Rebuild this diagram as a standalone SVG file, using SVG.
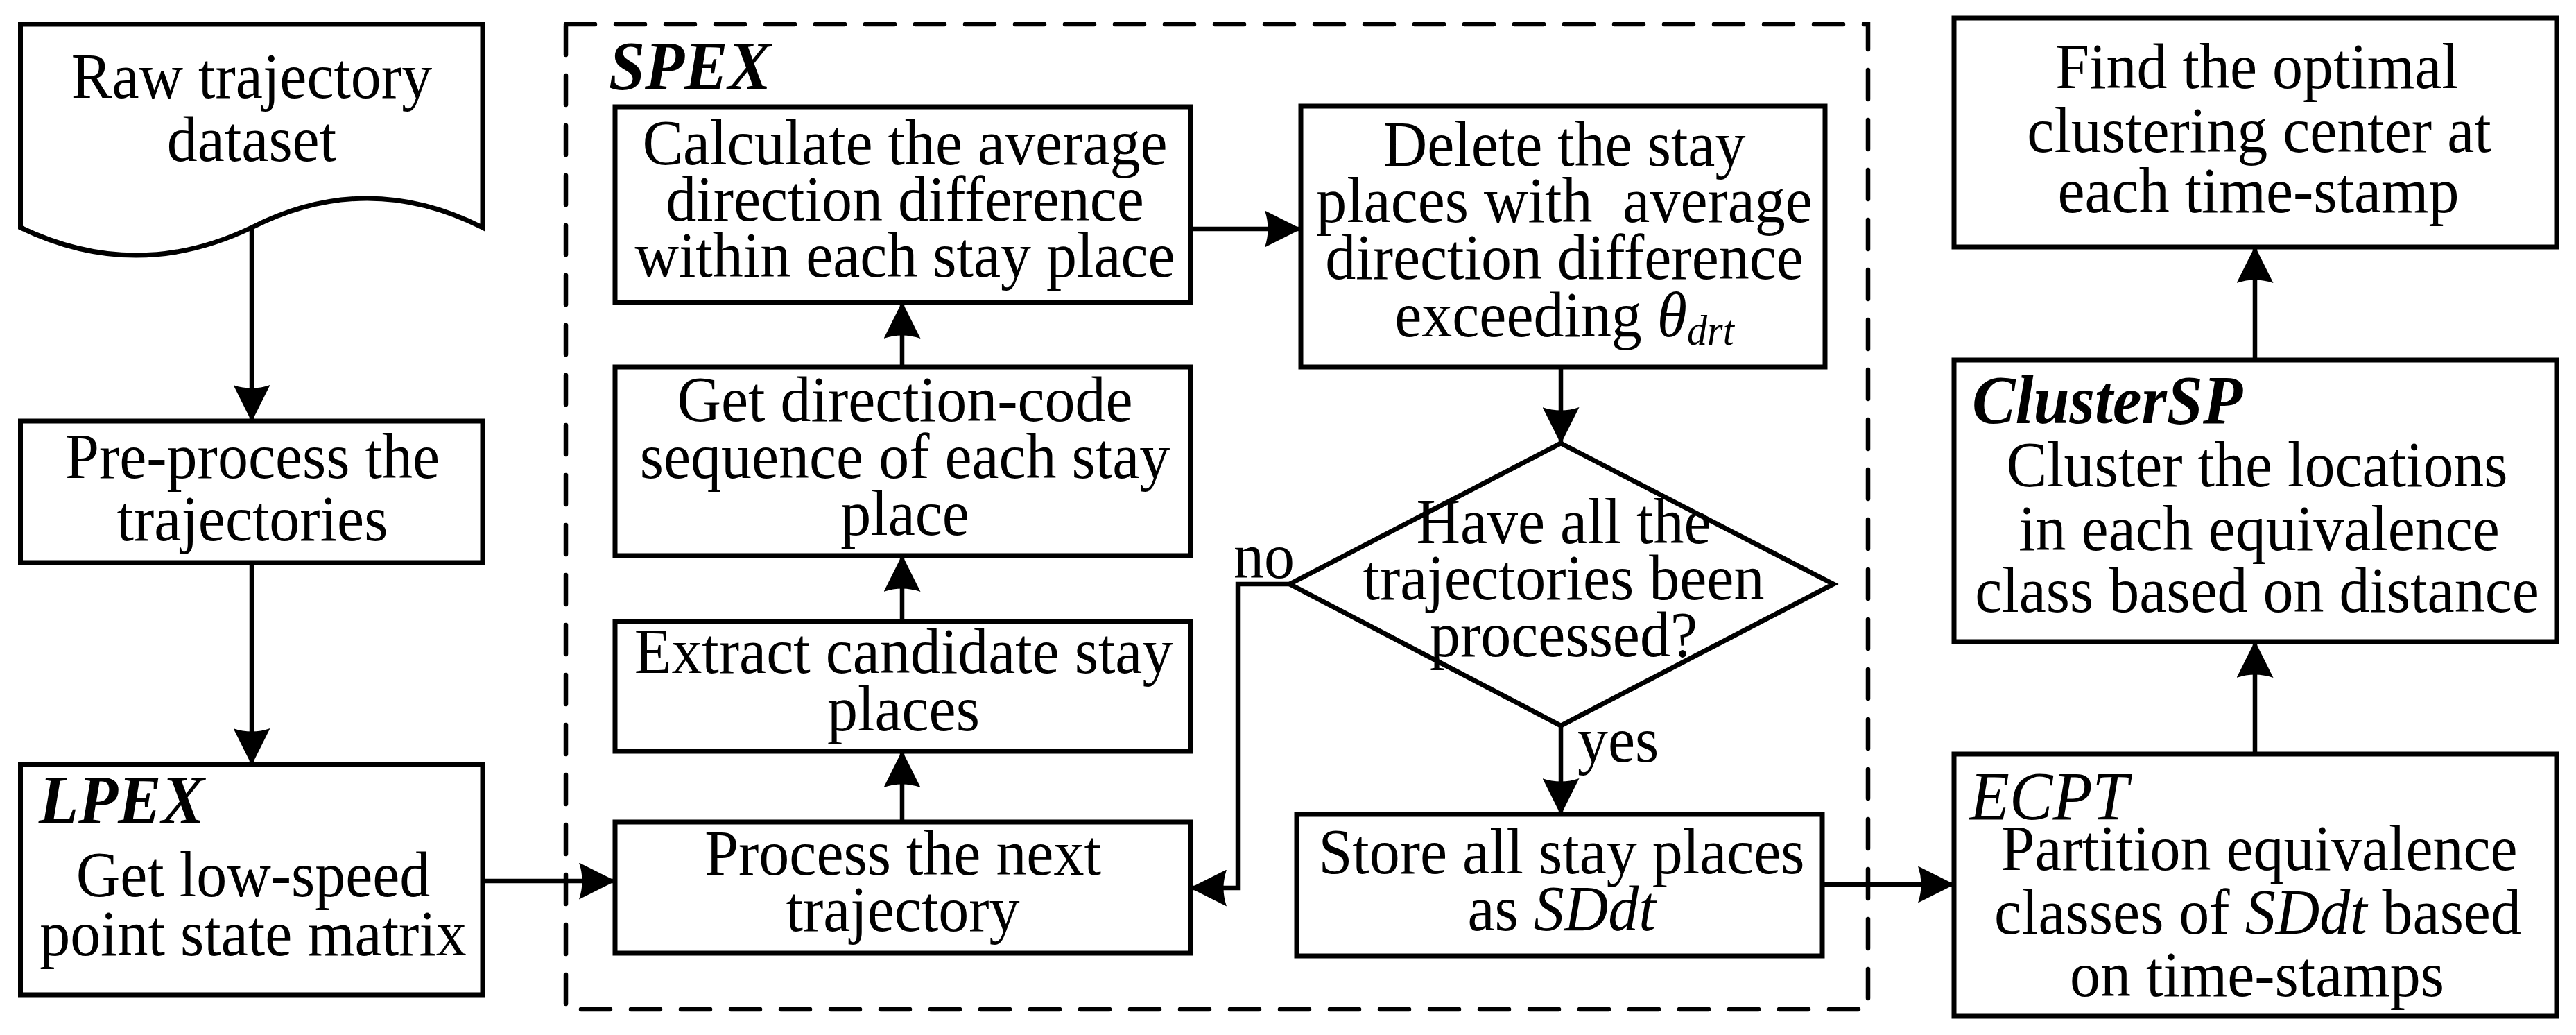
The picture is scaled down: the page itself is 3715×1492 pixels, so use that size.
<svg xmlns="http://www.w3.org/2000/svg" width="3715" height="1492" viewBox="0 0 3715 1492">
<style>
.box{fill:#fff;stroke:#000;stroke-width:7;stroke-linejoin:miter}
.t{font-family:"Liberation Serif","Times New Roman",serif;font-size:94px;fill:#000;text-anchor:middle;transform-box:fill-box;transform-origin:center;transform:scaleX(0.936)}
.s{text-anchor:start;transform-origin:left center}
.lbl{font-family:"Liberation Serif","Times New Roman",serif;font-size:100px;font-weight:bold;font-style:italic;fill:#000;transform-box:fill-box;transform-origin:left center;transform:scaleX(0.936)}
.it{font-style:italic}
.con{fill:none;stroke:#000;stroke-width:6.5}
.dash{fill:none;stroke:#000;stroke-width:6.5;stroke-dasharray:42 30;stroke-linecap:round}
</style>
<defs>
<marker id="arr" markerUnits="userSpaceOnUse" viewBox="0 0 53 53" markerWidth="53" markerHeight="53" refX="52" refY="26.5" orient="auto">
<path d="M0,0 L53,26.5 L0,53 Q9,26.5 0,0 Z" fill="#000"/>
</marker>
</defs>
<rect width="3715" height="1492" fill="#fff"/>

<g id="spex">
<rect class="dash" x="816" y="35" width="1878" height="1420"/>
<text class="lbl" x="878" y="128">SPEX</text>
</g>

<g id="connectors">
<line class="con" x1="363" y1="328" x2="363" y2="607" marker-end="url(#arr)"/>
<line class="con" x1="363" y1="811" x2="363" y2="1102" marker-end="url(#arr)"/>
<line class="con" x1="696" y1="1270" x2="887" y2="1270" marker-end="url(#arr)"/>
<line class="con" x1="1301" y1="1185" x2="1301" y2="1083" marker-end="url(#arr)"/>
<line class="con" x1="1301" y1="896" x2="1301" y2="801" marker-end="url(#arr)"/>
<line class="con" x1="1301" y1="529" x2="1301" y2="436" marker-end="url(#arr)"/>
<line class="con" x1="1717" y1="330" x2="1876" y2="330" marker-end="url(#arr)"/>
<line class="con" x1="2251" y1="529" x2="2251" y2="639" marker-end="url(#arr)"/>
<line class="con" x1="2251" y1="1046" x2="2251" y2="1174" marker-end="url(#arr)"/>
<polyline class="con" points="1860,842 1785,842 1785,1280 1717,1280" marker-end="url(#arr)"/>
<line class="con" x1="2628" y1="1275" x2="2818" y2="1275" marker-end="url(#arr)"/>
<line class="con" x1="3252" y1="1087" x2="3252" y2="925" marker-end="url(#arr)"/>
<line class="con" x1="3252" y1="519" x2="3252" y2="356" marker-end="url(#arr)"/>
<text class="t s" x="1779" y="833">no</text>
<text class="t s" x="2275" y="1098">yes</text>
</g>

<g id="raw">
<path class="box" d="M29.5,35 H696 V328 Q529.5,244 363,328 Q196,408 29.5,328 Z"/>
<text class="t" x="363" y="141">Raw trajectory</text>
<text class="t" x="363" y="232">dataset</text>
</g>

<g id="preprocess">
<rect class="box" x="29.5" y="607" width="666.5" height="204"/>
<text class="t" x="364" y="689">Pre-process the</text>
<text class="t" x="364" y="779">trajectories</text>
</g>

<g id="lpex">
<rect class="box" x="29.5" y="1102" width="666.5" height="332"/>
<text class="lbl" x="56" y="1186">LPEX</text>
<text class="t" x="365" y="1292">Get low-speed</text>
<text class="t" x="365" y="1377">point state matrix</text>
</g>

<g id="calc">
<rect class="box" x="887" y="154" width="830" height="282"/>
<text class="t" x="1305" y="237">Calculate the average</text>
<text class="t" x="1305" y="318">direction difference</text>
<text class="t" x="1305" y="399">within each stay place</text>
</g>

<g id="getdir">
<rect class="box" x="887" y="529" width="830" height="272"/>
<text class="t" x="1305" y="607">Get direction-code</text>
<text class="t" x="1305" y="689">sequence of each stay</text>
<text class="t" x="1305" y="771">place</text>
</g>

<g id="extract">
<rect class="box" x="887" y="896" width="830" height="187"/>
<text class="t" x="1303" y="970">Extract candidate stay</text>
<text class="t" x="1303" y="1053">places</text>
</g>

<g id="process">
<rect class="box" x="887" y="1185" width="830" height="189"/>
<text class="t" x="1302" y="1261">Process the next</text>
<text class="t" x="1302" y="1342">trajectory</text>
</g>

<g id="delete">
<rect class="box" x="1876" y="153" width="756" height="376"/>
<text class="t" x="2256" y="239">Delete the stay</text>
<text class="t" x="2256" y="320" xml:space="preserve" style="white-space:pre">places with  average</text>
<text class="t" x="2256" y="402">direction difference</text>
<text class="t" x="2256" y="485">exceeding <tspan class="it">θ</tspan><tspan class="it" font-size="62" dy="12">drt</tspan></text>
</g>

<g id="decision">
<polygon class="box" points="2251,639 2644,842 2251,1046 1860,842"/>
<text class="t" x="2255" y="783">Have all the</text>
<text class="t" x="2255" y="864">trajectories been</text>
<text class="t" x="2255" y="946">processed?</text>
</g>

<g id="store">
<rect class="box" x="1870" y="1174" width="758" height="204"/>
<text class="t" x="2252" y="1259">Store all stay places</text>
<text class="t" x="2252" y="1341">as <tspan class="it">SDdt</tspan></text>
</g>

<g id="ecpt">
<rect class="box" x="2818" y="1087" width="869" height="378"/>
<text class="lbl" x="2841" y="1181" style="font-weight:normal">ECPT</text>
<text class="t" x="3258" y="1254">Partition equivalence</text>
<text class="t" x="3256" y="1346">classes of <tspan class="it">SDdt</tspan> based</text>
<text class="t" x="3255" y="1436">on time-stamps</text>
</g>

<g id="clustersp">
<rect class="box" x="2818" y="519" width="869" height="406"/>
<text class="lbl" x="2844" y="610">ClusterSP</text>
<text class="t" x="3255" y="701">Cluster the locations</text>
<text class="t" x="3258" y="793">in each equivalence</text>
<text class="t" x="3255" y="882">class based on distance</text>
</g>

<g id="find">
<rect class="box" x="2818" y="26" width="869" height="330"/>
<text class="t" x="3255" y="127">Find the optimal</text>
<text class="t" x="3258" y="219">clustering center at</text>
<text class="t" x="3257" y="306">each time-stamp</text>
</g>
</svg>
